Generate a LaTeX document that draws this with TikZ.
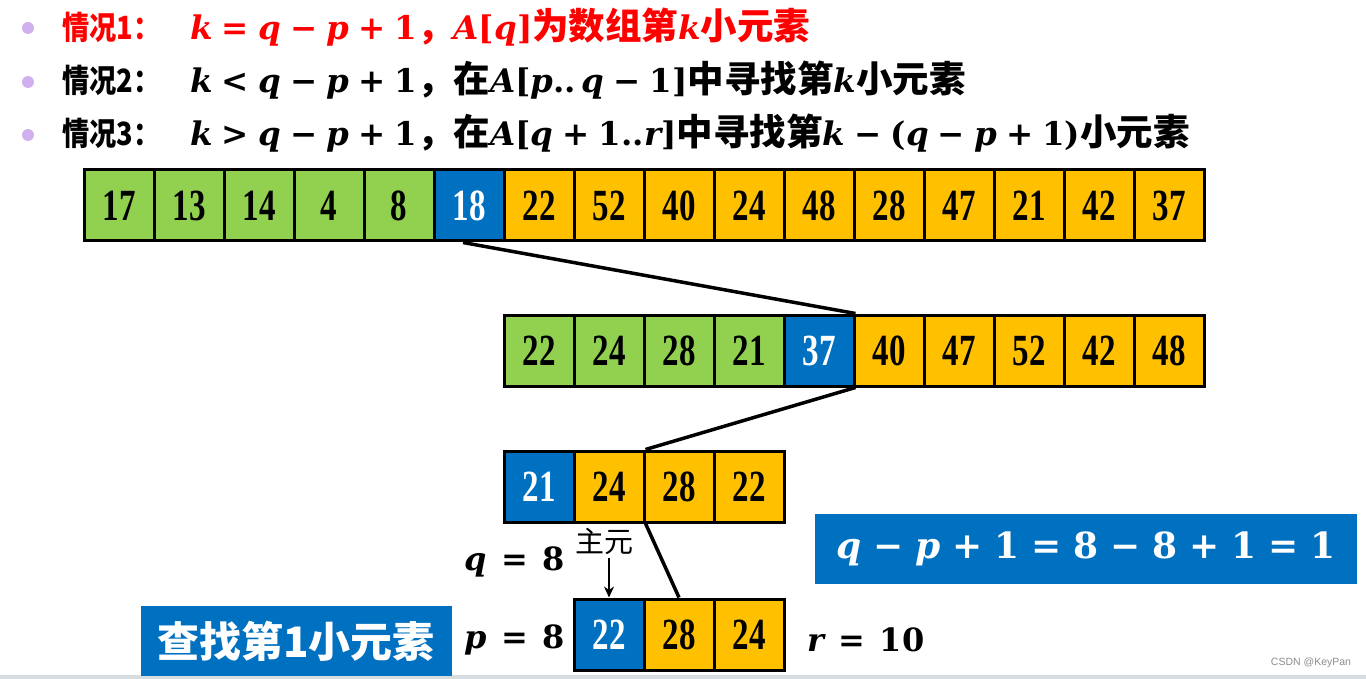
\documentclass[tikz,border=0pt]{standalone}
\usepackage{fontspec}
\setmainfont{Liberation Serif}
\newfontfamily\cjk{Noto Sans CJK SC}
\newfontfamily\mf{DejaVu Serif}
\newfontfamily\wmfont{Liberation Sans}
\usepackage{graphicx}
\usetikzlibrary{calc,arrows.meta}
\definecolor{cgreen}{HTML}{92D050}
\definecolor{cblue}{HTML}{0070C0}
\definecolor{corange}{HTML}{FFC000}
\definecolor{cbullet}{RGB}{208,176,238}
\definecolor{cbar}{RGB}{214,221,224}
\newlength\opg
\newcommand\cn[1]{{\cjk\bfseries #1}}
\newcommand\hd[1]{\scalebox{0.85}[1]{\fontsize{32}{32}\selectfont\cjk\bfseries #1}\hspace{30pt}}
\newcommand\vv[1]{{\mf\bfseries\itshape #1}}
\newcommand\nn[1]{{\mf\bfseries #1}}
\newcommand\bo[1]{\hspace{\opg}{\mf\bfseries #1}\hspace{\opg}}
\newcommand\mm[1]{{\fontsize{32.5}{32.5}\selectfont\setlength\opg{0.28em}#1}}
\newcommand\numtxt[1]{\scalebox{1}[1.35]{#1}}
\begin{document}
\begin{tikzpicture}[x=1pt,y=-1pt,
  cell/.style={draw=black, line width=3pt, minimum width=70pt, minimum height=71pt, inner sep=0pt,
    font=\fontsize{33}{33}\selectfont\bfseries},
  gcell/.style={cell, fill=cgreen},
  bcell/.style={cell, fill=cblue, text=white},
  ocell/.style={cell, fill=corange},
  topline/.style={anchor=base west, inner sep=0pt, font=\fontsize{36.5}{40}\selectfont},
  bullet/.style={circle, fill=cbullet, minimum size=12pt, inner sep=0pt},
  mathlbl/.style={inner sep=0pt, font=\fontsize{32}{32}\selectfont\setlength\opg{0.45em}},
  conn/.style={line width=3.5pt, black},
  bluebox/.style={fill=cblue, text=white, inner sep=0pt}
]
\useasboundingbox (0,0) rectangle (1366,679);
\fill[cbar] (0,675) rectangle (1366,679);

% top lines
\node[bullet] (u1) at (28,28) {};
\node[bullet] (u2) at (28,82) {};
\node[bullet] (u3) at (28,135) {};
\node[topline, text=red] (l1) at (62,40) {\hd{情况1：}\mm{\vv{k}\bo{=}\vv{q}\bo{−}\vv{p}\bo{+}\nn{1}}\cn{，}\mm{\vv{A}\nn{[}\vv{q}\nn{]}}\cn{为数组第}\mm{\vv{k}}\cn{小元素}};
\node[topline] (l2) at (62,93) {\hd{情况2：}\mm{\vv{k}\bo{<}\vv{q}\bo{−}\vv{p}\bo{+}\nn{1}}\cn{，在}\mm{\vv{A}\nn{[}\vv{p}\nn{..\,}\vv{q}\bo{−}\nn{1}\nn{]}}\cn{中寻找第}\mm{\vv{k}}\cn{小元素}};
\node[topline] (l3) at (62,146) {\hd{情况3：}\mm{\vv{k}\bo{>}\vv{q}\bo{−}\vv{p}\bo{+}\nn{1}}\cn{，在}\mm{\vv{A}\nn{[}\vv{q}\bo{+}\nn{1..}\vv{r}\nn{]}}\cn{中寻找第}\mm{\vv{k}\bo{−}\nn{(}\vv{q}\bo{−}\vv{p}\bo{+}\nn{1)}}\cn{小元素}};

% rows
\foreach \v/\s [count=\i] in {17/gcell,13/gcell,14/gcell,4/gcell,8/gcell,18/bcell,22/ocell,52/ocell,40/ocell,24/ocell,48/ocell,28/ocell,47/ocell,21/ocell,42/ocell,37/ocell}
  \node[\s] (a\i) at ({119+70*(\i-1)},205.5) {\numtxt{\v}};
\foreach \v/\s [count=\i] in {22/gcell,24/gcell,28/gcell,21/gcell,37/bcell,40/ocell,47/ocell,52/ocell,42/ocell,48/ocell}
  \node[\s] (b\i) at ({539+70*(\i-1)},350.5) {\numtxt{\v}};
\foreach \v/\s [count=\i] in {21/bcell,24/ocell,28/ocell,22/ocell}
  \node[\s] (c\i) at ({539+70*(\i-1)},486.5) {\numtxt{\v}};
\foreach \v/\s [count=\i] in {22/bcell,28/ocell,24/ocell}
  \node[\s] (d\i) at ({609+70*(\i-1)},634.5) {\numtxt{\v}};

% connectors
\draw[conn] ($(a6.south)+(-6,0)$) -- (b5.north east);
\draw[conn] (b5.south east) -- (c2.north east);
\draw[conn] (c2.south east) -- (d2.north);

% labels
\node[inner sep=0pt, font=\cjk\fontsize{29}{29}\selectfont] (zy) at (604,541) {主元};
\draw[line width=2pt, -{Stealth[length=11pt,width=10pt]}] (zy.south -| d1.north) ++(0,4) -- (d1.north);
\node[mathlbl] (q8) at (515,562) {\vv{q}\bo{=}\nn{8}};
\node[mathlbl] (p8) at (515,640) {\vv{p}\bo{=}\nn{8}};
\node[mathlbl] (r10) at (866,640) {\vv{r}\bo{=}\nn{10}};

\node[bluebox, minimum width=311pt, minimum height=70pt, font=\cjk\bfseries\fontsize{42}{42}\selectfont] (fz) at (296,641) {查找第1小元素};
\node[bluebox, minimum width=542pt, minimum height=70pt, font=\fontsize{36}{36}\selectfont\setlength\opg{0.33em}] (eq) at (1086,549) {\vv{q}\bo{−}\vv{p}\bo{+}\nn{1}\bo{=}\nn{8}\bo{−}\nn{8}\bo{+}\nn{1}\bo{=}\nn{1}};

\node[inner sep=0pt, text=black!45, font=\wmfont\fontsize{10.5}{10.5}\selectfont] (wm) at (1311,663) {CSDN @KeyPan};
\end{tikzpicture}
\end{document}
